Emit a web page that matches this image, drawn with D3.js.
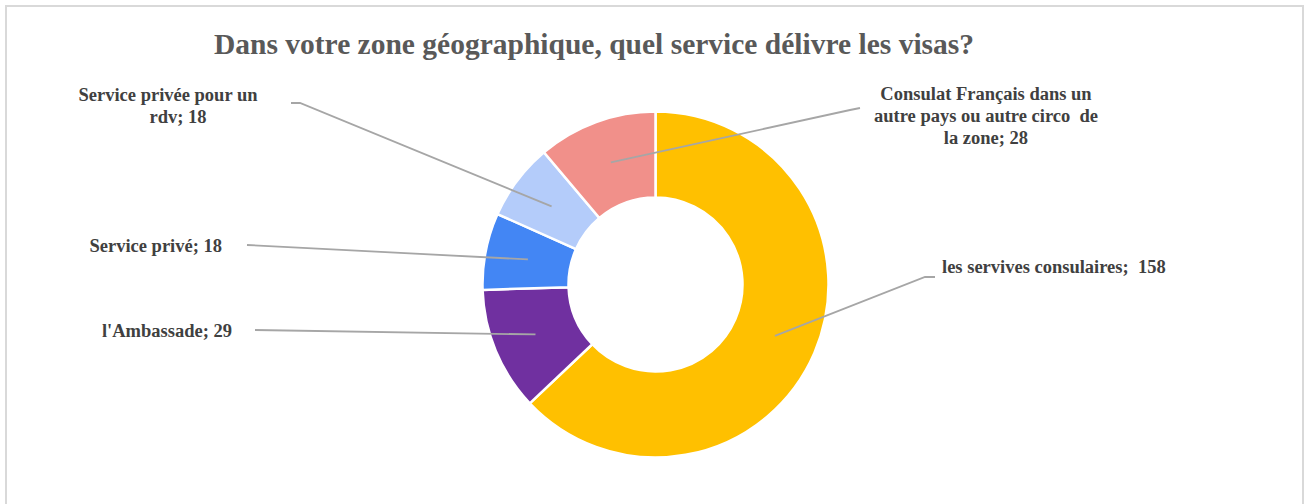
<!DOCTYPE html>
<html>
<head>
<meta charset="utf-8">
<script src="https://cdn.jsdelivr.net/npm/d3@7"></script>
<style>
  body { margin: 0; background: #fff; }
  svg text { font-family: "Liberation Serif", "Times New Roman", serif; font-weight: bold; }
</style>
</head>
<body>
<svg id="chart" width="1306" height="504"></svg>
<script>
// data
var categories = ["les servives consulaires", "l'Ambassade", "Service privé", "Service privée pour un rdv", "Consulat Français dans un autre pays ou autre circo  de la zone"];
var values = [158, 29, 18, 18, 28];
var colors = ["#FFC000", "#7030A0", "#4386F4", "#B4CCFA", "#F1908A"];
// label text as it is wrapped in the picture
var labelLines = [
    ["les servives consulaires;  158"],
    ["l'Ambassade; 29"],
    ["Service privé; 18"],
    ["Service privée pour un", "rdv; 18"],
    ["Consulat Français dans un", "autre pays ou autre circo  de", "la zone; 28"]
];

var title = "Dans votre zone géographique, quel service délivre les visas?";

// layout for the labels and their leader lines (x, y of the first baseline, anchor, elbow points)
var labelLayout = [
    {x: 942, y: 273, anchor: "start", elbow: [[925, 277], [935, 277]]},
    {x: 232, y: 337, anchor: "end", elbow: [[255, 330]]},
    {x: 222, y: 252, anchor: "end", elbow: [[247, 245]]},
    {x: 168, y: 101, anchor: "middle", elbow: [[300, 103], [291, 103]], dx: [0, 10]},
    {x: 986, y: 100, anchor: "middle", elbow: [[850, 110], [860, 108]]}
];

function initialize(){
    var svg = d3.select("#chart");

    // chart area border
    svg.append("rect")
        .attr("x", 6).attr("y", 6)
        .attr("width", 1297).attr("height", 520)
        .attr("fill", "#fff")
        .attr("stroke", "#D9D9D9")
        .attr("stroke-width", 2);

    svg.append("text")
        .attr("x", 594).attr("y", 54)
        .attr("text-anchor", "middle")
        .attr("font-size", 29.5)
        .attr("fill", "#595959")
        .text(title);

    drawDonut(svg);
};

function drawDonut(svg){
    var cx = 655.5, cy = 284.5,
        outerR = 173, innerR = 87;

    var data = categories.map(function(c, i){ return {name: c, value: values[i], i: i}; });

    var pie = d3.pie()
        .sort(null)
        .value(function(d){ return d.value; });

    var arc = d3.arc()
        .innerRadius(innerR)
        .outerRadius(outerR);

    var g = svg.append("g")
        .attr("transform", "translate(" + cx + "," + cy + ")");

    var arcs = pie(data);

    g.selectAll("path.slice")
        .data(arcs)
        .enter()
        .append("path")
        .attr("class", "slice")
        .attr("d", arc)
        .attr("fill", function(d){ return colors[d.data.i]; })
        .attr("stroke", "#fff")
        .attr("stroke-width", 2.5);

    // leader lines from the middle of each slice to its label
    var line = d3.line();
    arcs.forEach(function(d){
        var c = arc.centroid(d);
        var lay = labelLayout[d.data.i];
        var pts = [[cx + c[0], cy + c[1]]].concat(lay.elbow);
        svg.append("path")
            .attr("d", line(pts))
            .attr("fill", "none")
            .attr("stroke", "#A6A6A6")
            .attr("stroke-width", 1.8);
    });

    // labels
    labelLines.forEach(function(lines, i){
        var lay = labelLayout[i];
        var t = svg.append("text")
            .attr("text-anchor", lay.anchor)
            .attr("font-size", 18.5)
            .attr("fill", "#404040");
        lines.forEach(function(s, k){
            t.append("tspan")
                .attr("x", lay.x + (lay.dx ? lay.dx[k] : 0))
                .attr("y", lay.y + k * 22)
                .attr("xml:space", "preserve")
                .style("white-space", "pre")
                .text(s);
        });
    });
};

initialize();
</script>
</body>
</html>
